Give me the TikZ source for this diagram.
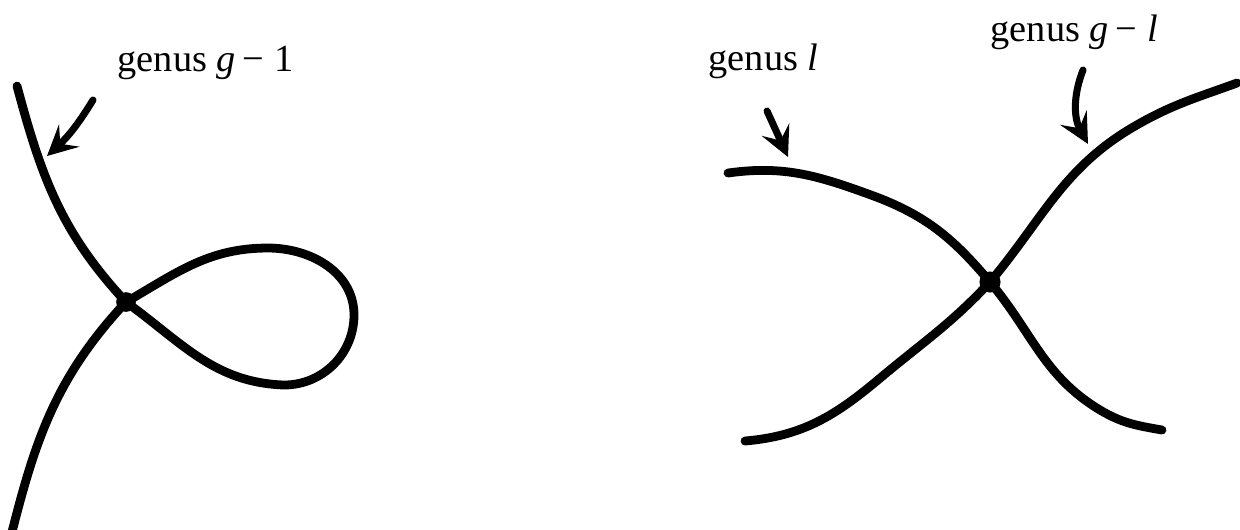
\documentclass[tikz,border=0pt]{standalone}
\usepackage{fontspec}
\setmainfont{Liberation Serif}
\usetikzlibrary{arrows.meta, positioning}

\begin{document}
\begin{tikzpicture}[x=0.01cm, y=0.01cm, yscale=-1, line cap=round, line join=round,
  branch/.style={line width=2.5pt},
  pointer/.style={line width=2pt, -{Stealth[length=3mm, width=3mm, inset=1.2mm]}},
  genustext/.style={anchor=base west, inner sep=0pt, font=\fontsize{10.9}{13}\selectfont}]
  \useasboundingbox (0,0) rectangle (1240,529);
  % Kurve mit Schleife (Winkel: y nach unten)
  \coordinate (p) at (126,302);
  \draw[branch] (17,86) to[out=75, in=227] (p)
    to[out=36, in=182] (284,385) to[out=0, in=90] (354,315)
    to[out=270, in=0] (268,248) to[out=180, in=-30] (p)
    to[out=133, in=-76] (10,540);
  \fill (p) circle[radius=2.8pt];
  % zwei Komponenten
  \coordinate (q) at (990,282);
  \draw[branch] (728,173) to[out=-8, in=200] (871,195) to[out=20, in=230] (q)
    to[out=50, in=211] (1100,410) to[out=31, in=190] (1162,430);
  \draw[branch] (745,441) to[out=-5, in=140] (879,379) to[out=-40, in=133] (q)
    to[out=-50, in=150] (1135,126) to[out=-30, in=160] (1237,83);
  \fill (q) circle[radius=3pt];
  % Beschriftungen
  \node[genustext] (gone) at (117,71) {genus \textit{g}\,−\;1};
  \node[genustext] (gl) at (708,70) {genus \textit{l}};
  \node[genustext] (gminusl) at (990,41) {genus \textit{g}\,−\;\textit{l}};
  % Pfeile
  \coordinate (s1) at (93,100);
  \coordinate (e1) at (47,156);
  \coordinate (s2) at (767,111);
  \coordinate (e2) at (788,157);
  \coordinate (s3) at (1083,70);
  \coordinate (e3) at (1088,144);
  \draw[pointer] (s1) to[bend right=8] (e1);
  \draw[pointer] (s2) -- (e2);
  \draw[pointer] (s3) to[bend left=25] (e3);
\end{tikzpicture}
\end{document}
